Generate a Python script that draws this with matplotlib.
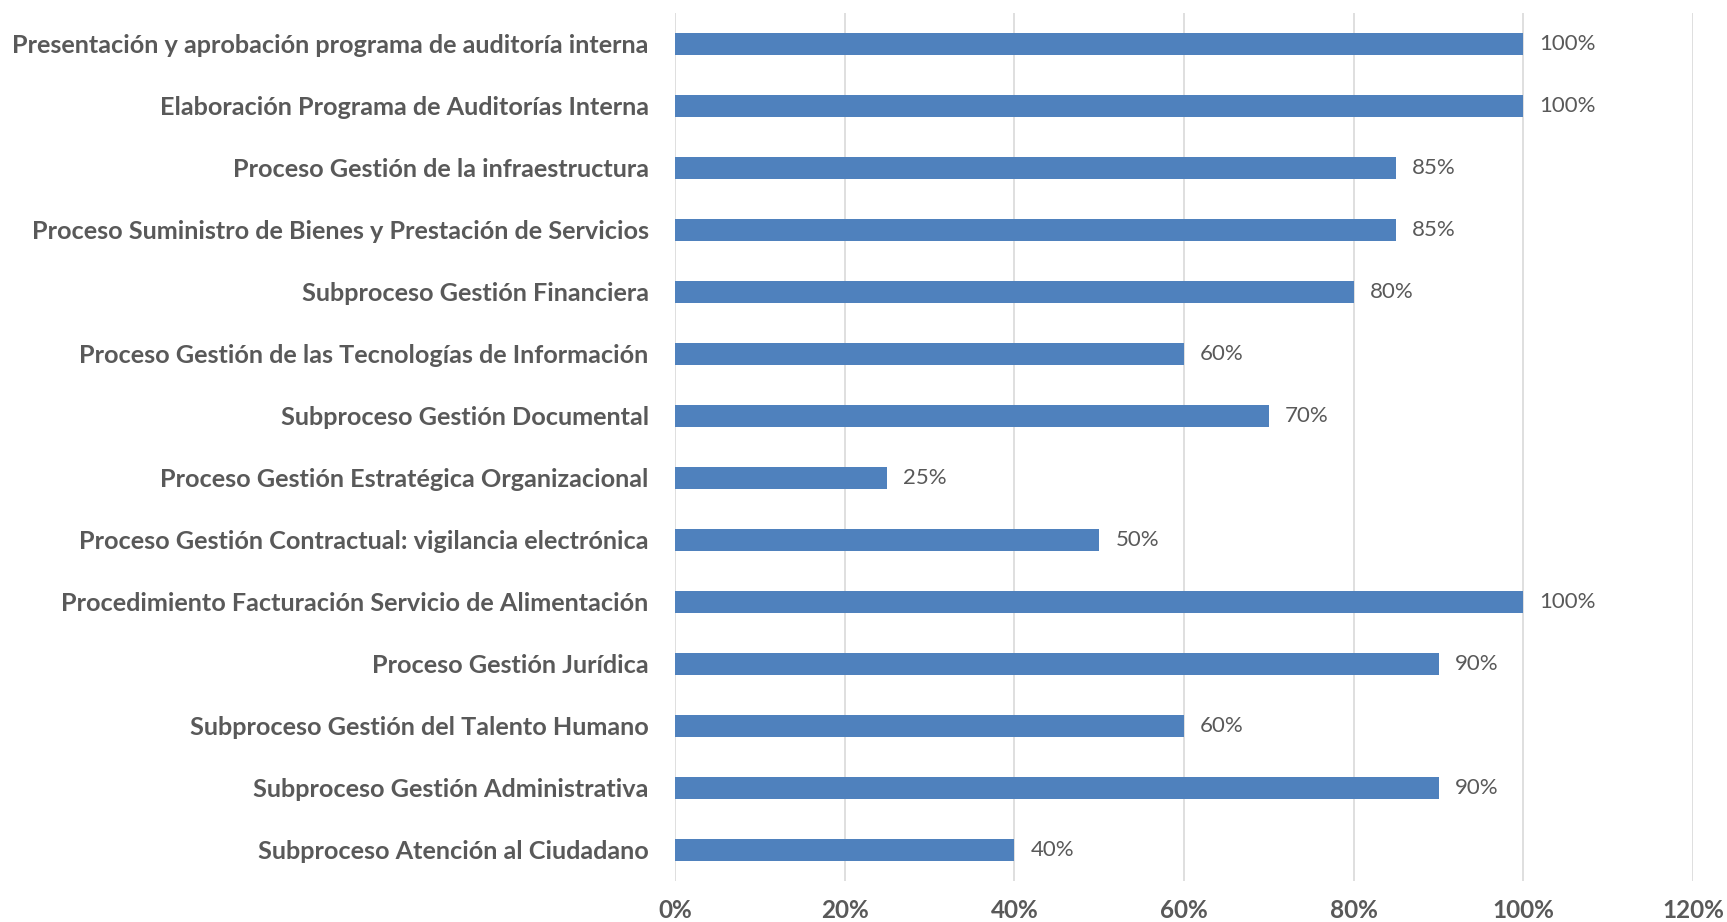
import matplotlib.pyplot as plt
from matplotlib.ticker import PercentFormatter

# datos de avance, de arriba hacia abajo
procesos = [
    "Presentación y aprobación programa de auditoría interna",
    "Elaboración Programa de Auditorías Interna",
    "Proceso Gestión de la infraestructura",
    "Proceso Suministro de Bienes y Prestación de Servicios",
    "Subproceso Gestión Financiera",
    "Proceso Gestión de las Tecnologías de Información",
    "Subproceso Gestión Documental",
    "Proceso Gestión Estratégica Organizacional",
    "Proceso Gestión Contractual: vigilancia electrónica",
    "Procedimiento Facturación Servicio de Alimentación",
    "Proceso Gestión Jurídica",
    "Subproceso Gestión del Talento Humano",
    "Subproceso Gestión Administrativa",
    "Subproceso Atención al Ciudadano",
]
avance = [100, 100, 85, 85, 80, 60, 70, 25, 50, 100, 90, 60, 90, 40]
ticks_x = [0, 20, 40, 60, 80, 100, 120]

gris = "#595959"
plt.rcParams['font.family'] = ['Lato', 'DejaVu Sans']

fig = plt.figure(figsize=(17.27, 9.22), dpi=100)
ax = fig.add_axes([0.3909, 0.0445, 0.5894, 0.9414])

y = list(range(len(procesos)))
ax.barh(y, avance, height=0.36, color="#4F81BD", zorder=3)
ax.set_ylim(len(procesos) - 0.5, -0.5)
ax.set_xlim(0, 120)
ax.set_xticks(ticks_x)
ax.xaxis.set_major_formatter(PercentFormatter(decimals=0))
ax.set_yticks(y)
ax.set_yticklabels(procesos)

# etiquetas de valor
for i, v in enumerate(avance):
    ax.text(v + 1.9, i, f"{v}%", va="center", ha="left", fontsize=16, color=gris)

ax.grid(axis="x", color="#D9D9D9", linewidth=1.2, zorder=0)
for s in ax.spines.values():
    s.set_visible(False)
ax.tick_params(axis="both", length=0, colors=gris)
ax.tick_params(axis="x", pad=13, labelsize=17.5)
ax.tick_params(axis="y", pad=19, labelsize=18.2)
for lbl in ax.get_xticklabels() + ax.get_yticklabels():
    lbl.set_fontweight("bold")

fig.savefig("out.png", dpi=100)
